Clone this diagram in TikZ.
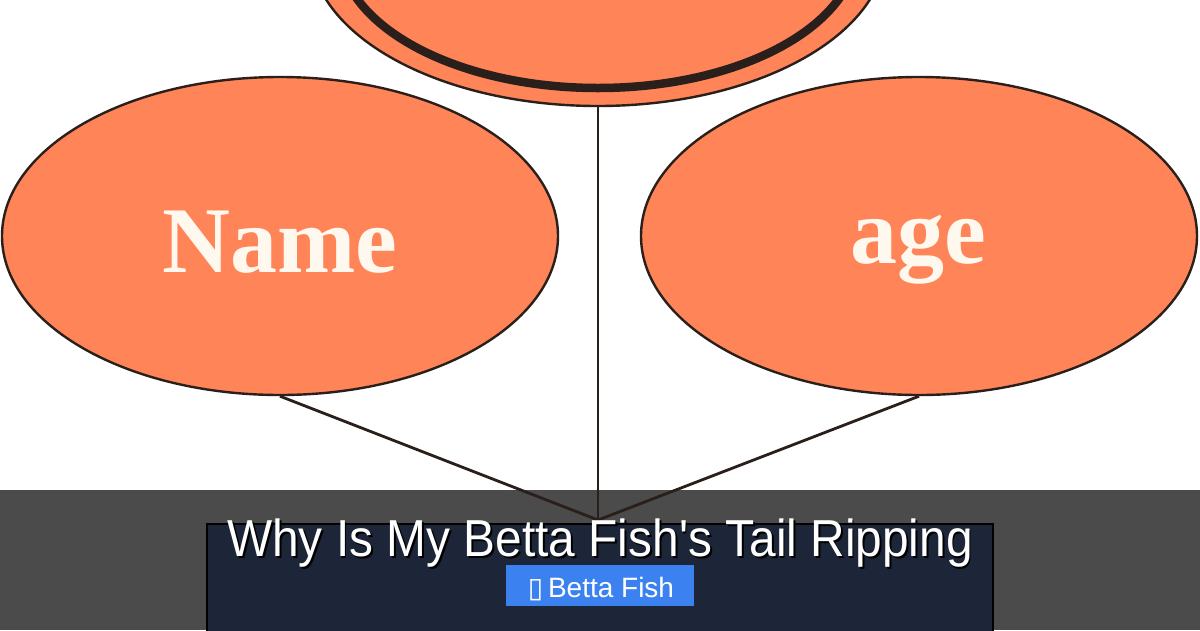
\documentclass[tikz,border=0pt]{standalone}
\usepackage{fontspec}
\setmainfont{Liberation Serif}
\newfontfamily\titlefont{Liberation Sans}
\newfontfamily\symfont{DejaVu Sans}
\usetikzlibrary{shapes.geometric}
\definecolor{coral}{HTML}{FF8457}
\definecolor{outline}{HTML}{2A1F1A}
\definecolor{cream}{HTML}{FFF8EE}
\definecolor{navy}{HTML}{1C2638}
\definecolor{bandgray}{HTML}{4B4B4B}
\definecolor{badgeblue}{HTML}{3B82F0}
\newcommand{\shadowtext}[3]{\makebox[0pt][l]{\hspace*{#1}\raisebox{-#2}{\color{black}#3}}#3}
\begin{document}
\begin{tikzpicture}[x=1pt,y=-1pt,
  bubble/.style={ellipse, draw=outline, fill=coral, line width=2.4pt, inner sep=0pt,
                 minimum width=556pt, minimum height=318pt},
  link/.style={draw=outline, line width=2.8pt},
  attrtext/.style={anchor=base, text=cream, inner sep=0pt,
                   font=\bfseries\fontsize{94}{100}\selectfont},
  titletext/.style={anchor=base, inner sep=0pt, text=white,
                    font=\titlefont\fontsize{52}{60}\selectfont},
  badgetext/.style={anchor=base, inner sep=0pt, text=white,
                    font=\titlefont\fontsize{28}{32}\selectfont}]
\clip (0,0) rectangle (1200,630);
\fill[white] (0,0) rectangle (1200,630);
% entity (top, cut off)
\node[bubble, minimum width=576pt, minimum height=318pt] (entity) at (598,-53) {};
\node[ellipse, draw=outline, line width=8.5pt, inner sep=0pt,
      minimum width=518pt, minimum height=282pt] (entityin) at (598,-53) {};
% attributes
\node[bubble] (namebub) at (280,236) {};
\node[bubble] (agebub) at (919,236) {};
\node[attrtext] (nametext) at (280,272) {Name};
\node[attrtext] (agetext) at (918,263) {age};
% overlay band and panel
\fill[bandgray] (0,490) rectangle (1200,630);
\node[draw=black, fill=navy, line width=2pt, inner sep=0pt, anchor=north west,
      minimum width=786pt, minimum height=130pt] (panel) at (206,523) {};
% connectors
\coordinate (hub) at (598,520);
\draw[link] (namebub.south) -- (hub);
\draw[link] (agebub.south) -- (hub);
\draw[link] (entity.south) -- (hub);
% title
\node[titletext] (title) at (600,556)
  {\scalebox{0.92}[1]{\shadowtext{2pt}{2.5pt}{Why Is My Betta Fish's Tail Ripping}}};
% badge
\node[fill=badgeblue, inner sep=0pt, minimum width=188pt, minimum height=41pt] (badge) at (600,585.5) {};
\node[badgetext] (badgelabel) at (601,597) {{\symfont\char"25AF}\,Betta Fish};
\end{tikzpicture}
\end{document}
